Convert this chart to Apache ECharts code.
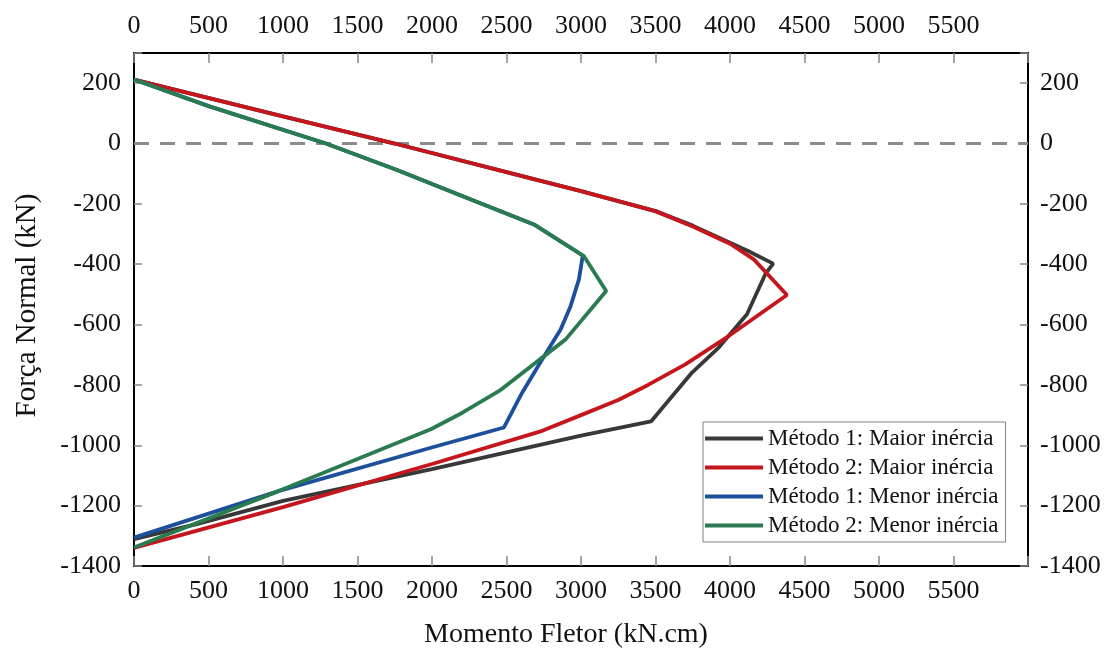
<!DOCTYPE html>
<html>
<head>
<meta charset="utf-8">
<script src="https://cdn.jsdelivr.net/npm/echarts@6/dist/echarts.min.js"></script>
<style>
  html, body { margin: 0; padding: 0; background: #fff; }
  #chart { width: 1109px; height: 654px; }
</style>
</head>
<body>
<div id="chart"></div>
<script>
// pontos [momento (kN.cm), normal (kN)]
const metodo1Maior = [
  [0, 212], [1000, 90], [1750, 0], [2500, -95], [3000, -158], [3500, -224],
  [3750, -272], [4125, -357], [4290, -398], [4240, -430], [4114, -566],
  [3924, -676], [3745, -759], [3470, -921], [3000, -968], [2000, -1079],
  [1000, -1184], [420, -1261], [0, -1311]
];
const metodo2Maior = [
  [0, 212], [1000, 90], [1750, 0], [2500, -95], [3000, -158], [3500, -224],
  [3750, -275], [4000, -332], [4160, -384], [4382, -502], [3991, -638],
  [3700, -732], [3450, -800], [3250, -850], [3000, -900], [2740, -952],
  [2000, -1062], [1000, -1205], [0, -1340]
];
const metodo1Menor = [
  [0, 212], [506, 123], [1288, 0], [1757, -86], [2202, -174], [2684, -268],
  [3012, -371], [2986, -450], [2930, -539], [2863, -616], [2740, -715],
  [2606, -825], [2483, -941], [1992, -1008], [975, -1151], [0, -1306]
];
const metodo2Menor = [
  [0, 212], [506, 123], [1288, 0], [1757, -86], [2202, -174], [2684, -268],
  [3019, -373], [3169, -489], [2897, -649], [2451, -820], [2204, -892],
  [1992, -947], [975, -1151], [0, -1339]
];
const linhaZero = [[0, 0], [6000, 0]];

const seriesNames = [
  'Método 1: Maior inércia',
  'Método 2: Maior inércia',
  'Método 1: Menor inércia',
  'Método 2: Menor inércia'
];
const seriesColors = ['#383838', '#c4161c', '#1c4f9c', '#2a7b4f'];
const seriesData = [metodo1Maior, metodo2Maior, metodo1Menor, metodo2Menor];

const FONT = 'Liberation Serif';

const myChart = echarts.init(document.getElementById('chart'));

const xCommon = {
  type: 'value',
  min: 0,
  max: 6000,
  interval: 500,
  axisLine: { show: true, onZero: false, lineStyle: { color: '#000', width: 2 } },
  axisTick: { show: true, inside: true, length: 10, lineStyle: { color: '#888', width: 1.5 } },
  splitLine: { show: false },
  axisLabel: {
    fontFamily: FONT, fontSize: 26, color: '#111', margin: 12,
    formatter: (v) => (v === 6000 ? '' : String(v))
  }
};
const yCommon = {
  type: 'value',
  min: -1400,
  max: 300,
  interval: 200,
  axisLine: { show: true, onZero: false, lineStyle: { color: '#000', width: 2 } },
  axisTick: { show: true, inside: true, length: 8, lineStyle: { color: '#888', width: 1.5 } },
  splitLine: { show: false },
  axisLabel: {
    fontFamily: FONT, fontSize: 26, color: '#111', margin: 13,
    formatter: (v) => (v === 300 ? '' : String(v))
  }
};

const option = {
  animation: false,
  backgroundColor: '#fff',
  grid: { left: 134, top: 53, width: 894, height: 513, containLabel: false },
  legend: {
    data: seriesNames,
    orient: 'vertical',
    left: 703,
    top: 422,
    icon: 'rect',
    itemWidth: 58,
    itemHeight: 4,
    itemGap: 6,
    padding: [5, 7, 5, 2],
    backgroundColor: '#fff',
    borderColor: '#808080',
    borderWidth: 1,
    borderRadius: 0,
    textStyle: { fontFamily: FONT, fontSize: 23, color: '#111', lineHeight: 23 }
  },
  xAxis: [
    Object.assign({}, xCommon, {
      position: 'bottom',
      name: 'Momento Fletor (kN.cm)',
      nameLocation: 'middle',
      nameGap: 55,
      nameTextStyle: { fontFamily: FONT, fontSize: 28, color: '#111', padding: [0, 30, 0, 0] }
    }),
    Object.assign({}, xCommon, {
      position: 'top',
      axisLabel: Object.assign({}, xCommon.axisLabel, { margin: 14 })
    })
  ],
  yAxis: [
    Object.assign({}, yCommon, {
      position: 'left',
      name: 'Força Normal (kN)',
      nameLocation: 'middle',
      nameGap: 92,
      nameTextStyle: { fontFamily: FONT, fontSize: 29, color: '#111', padding: [0, 0, 0, 8] }
    }),
    Object.assign({}, yCommon, {
      position: 'right',
      axisLabel: Object.assign({}, yCommon.axisLabel, { margin: 12 })
    })
  ],
  series: [
    {
      name: 'zero',
      type: 'line',
      data: linhaZero,
      showSymbol: false,
      silent: true,
      lineStyle: { color: '#8c8c8c', width: 3, type: [15, 11] },
      z: 1
    }
  ].concat(seriesData.map((d, i) => ({
    name: seriesNames[i],
    type: 'line',
    data: d,
    showSymbol: false,
    symbol: 'none',
    smooth: false,
    color: seriesColors[i],
    lineStyle: { color: seriesColors[i], width: 3.8 },
    z: 2 + i
  })))
};

window.addEventListener('resize', () => {
  myChart.resize();
});
myChart.setOption(option);
</script>
</body>
</html>
